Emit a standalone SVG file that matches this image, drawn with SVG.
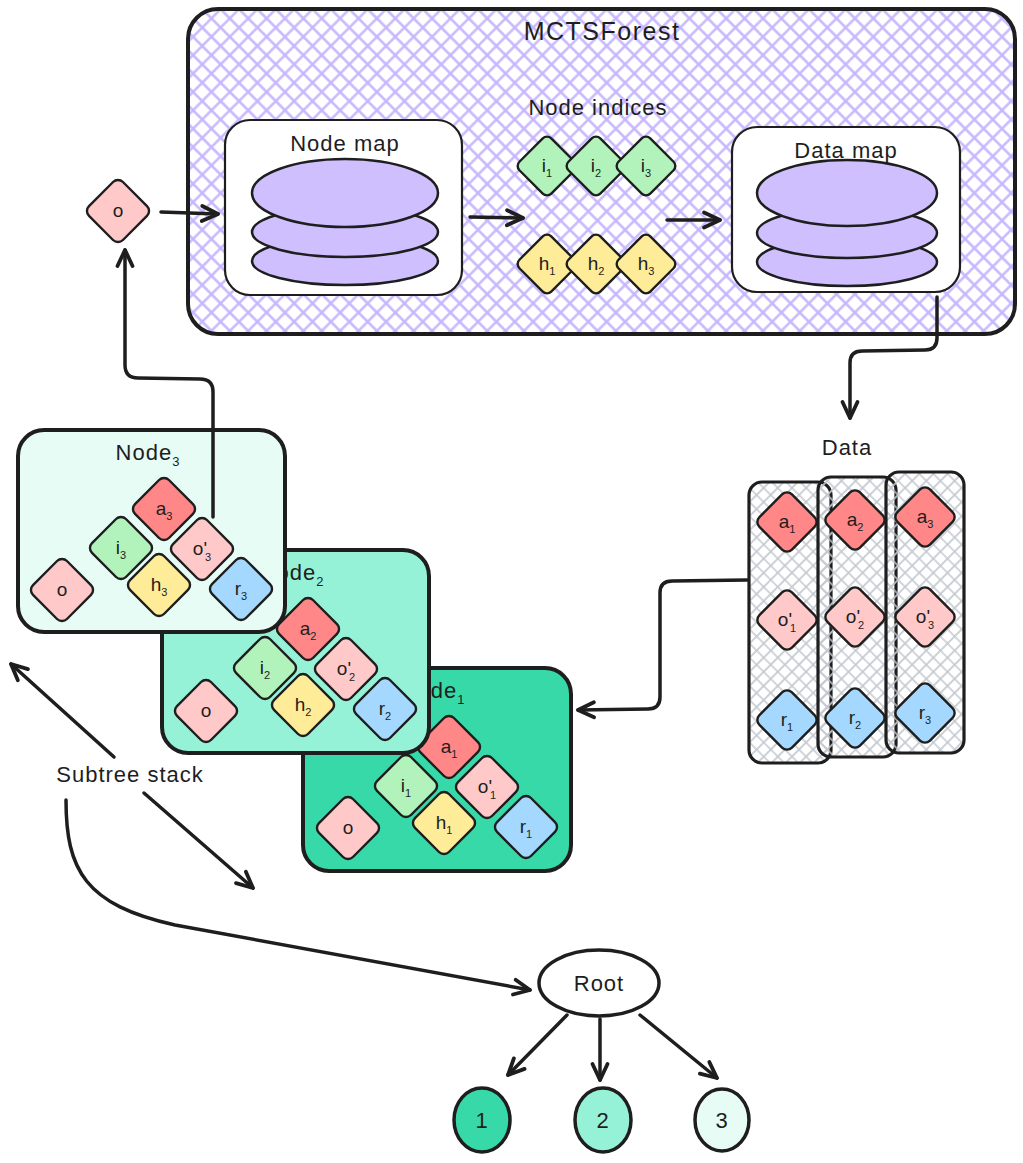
<svg xmlns="http://www.w3.org/2000/svg" width="1023" height="1163" viewBox="0 0 1023 1163">
  <defs>
    <!-- cross-hatch fills -->
    <pattern id="hatchPurple" width="13" height="13" patternUnits="userSpaceOnUse" patternTransform="rotate(45)">
      <path d="M0,6.5 H13 M6.5,0 V13" stroke="#c6b6ff" stroke-width="2.4"/>
    </pattern>
    <pattern id="hatchGrey" width="10" height="10" patternUnits="userSpaceOnUse" patternTransform="rotate(45)">
      <path d="M0,5 H10 M5,0 V10" stroke="#c3c9cf" stroke-width="1.7"/>
    </pattern>
    <!-- open arrowhead -->
    <marker id="arrow" viewBox="-20 -12 24 24" refX="0" refY="0" markerWidth="24" markerHeight="24" markerUnits="userSpaceOnUse" orient="auto" overflow="visible">
      <path d="M-16,-7.5 L0,0 L-16,7.5" fill="none" stroke="#1e1e1e" stroke-width="3.8" stroke-linecap="round" stroke-linejoin="round"/>
    </marker>
    <!-- rounded diamonds -->
    <rect id="dmL" x="-24" y="-24" width="48" height="48" rx="7" transform="rotate(45)"/>
    <rect id="dmM" x="-23" y="-23" width="46" height="46" rx="7" transform="rotate(45)"/>
    <rect id="dmS" x="-22.5" y="-22.5" width="45" height="45" rx="6" transform="rotate(45)"/>
  </defs>
  <style>
    .t{font-family:"Liberation Sans","DejaVu Sans",sans-serif;fill:#1e1e1e;text-anchor:middle}
    .big{font-size:25px;letter-spacing:1.5px}
    .mid{font-size:22px;letter-spacing:1px}
    .sm{font-size:19px}
    .sub{font-size:11px}
    .csub{font-size:13px}
    .dia{stroke:#1e1e1e;stroke-width:2.4;stroke-linejoin:round}
    .fa{fill:#ff8787}.fo{fill:#ffc9c9}.fi{fill:#b2f2bb}.fh{fill:#ffec99}.fr{fill:#a5d8ff}
    .stk{fill:#d0bfff;stroke:#1e1e1e;stroke-width:2.5}
    .card{stroke:#1e1e1e;stroke-width:4}
    .arr{fill:none;stroke:#1e1e1e;stroke-width:3.5;stroke-linecap:round;stroke-linejoin:round;marker-end:url(#arrow)}
  </style>

  <rect width="1023" height="1163" fill="#ffffff"/>

  <!-- forest container -->
  <g id="mcts-forest">
    <rect x="188" y="9" width="827" height="325" rx="30" fill="url(#hatchPurple)" stroke="#1e1e1e" stroke-width="4"/>
    <text class="t big" x="602" y="40">MCTSForest</text>
  </g>

  <g id="node-map">
    <rect x="225" y="120" width="237" height="175" rx="25" fill="#ffffff" stroke="#1e1e1e" stroke-width="2.2"/>
    <text class="t mid" x="345" y="151">Node map</text>
    <ellipse class="stk" cx="345" cy="261" rx="93" ry="24"/>
    <ellipse class="stk" cx="345" cy="232" rx="93" ry="25"/>
    <ellipse class="stk" cx="345" cy="193" rx="93" ry="34"/>
  </g>

  <g id="node-indices">
    <text class="t mid" x="598" y="115">Node indices</text>
    <g id="idx-i1"><use href="#dmS" x="547" y="166" class="dia fi"/><text class="t sm" x="547" y="172">i<tspan class="sub" dy="5">1</tspan></text></g>
    <g id="idx-i2"><use href="#dmS" x="596" y="166" class="dia fi"/><text class="t sm" x="596" y="172">i<tspan class="sub" dy="5">2</tspan></text></g>
    <g id="idx-i3"><use href="#dmS" x="646" y="166" class="dia fi"/><text class="t sm" x="646" y="172">i<tspan class="sub" dy="5">3</tspan></text></g>
    <g id="idx-h1"><use href="#dmS" x="547" y="264" class="dia fh"/><text class="t sm" x="547" y="270">h<tspan class="sub" dy="5">1</tspan></text></g>
    <g id="idx-h2"><use href="#dmS" x="596" y="264" class="dia fh"/><text class="t sm" x="596" y="270">h<tspan class="sub" dy="5">2</tspan></text></g>
    <g id="idx-h3"><use href="#dmS" x="646" y="264" class="dia fh"/><text class="t sm" x="646" y="270">h<tspan class="sub" dy="5">3</tspan></text></g>
  </g>

  <g id="data-map">
    <rect x="732" y="127" width="228" height="165" rx="25" fill="#ffffff" stroke="#1e1e1e" stroke-width="2.2"/>
    <ellipse class="stk" cx="847" cy="262" rx="90" ry="24"/>
    <ellipse class="stk" cx="847" cy="233" rx="90" ry="25"/>
    <ellipse class="stk" cx="847" cy="193" rx="90" ry="33"/>
    <text class="t mid" x="846" y="158">Data map</text>
  </g>

  <g id="obs">
    <use href="#dmL" x="118" y="211" class="dia fo"/>
    <text class="t sm" x="118" y="217">o</text>
  </g>

  <!-- data columns -->
  <g id="data">
    <text class="t mid" x="847" y="455">Data</text>
    <g id="data-col1">
      <rect x="749" y="482" width="82" height="281" rx="13" fill="url(#hatchGrey)" stroke="#1e1e1e" stroke-width="3.2"/>
      <use href="#dmM" x="787" y="522" class="dia fa"/><text class="t sm" x="787" y="528">a<tspan class="sub" dy="5">1</tspan></text>
      <use href="#dmM" x="787" y="620" class="dia fo"/><text class="t sm" x="787" y="626">o'<tspan class="sub" dx="-2" dy="6">1</tspan></text>
      <use href="#dmM" x="787" y="720" class="dia fr"/><text class="t sm" x="787" y="726">r<tspan class="sub" dy="5">1</tspan></text>
    </g>
    <g id="data-col2">
      <rect x="818" y="477" width="78" height="280" rx="13" fill="url(#hatchGrey)" stroke="#1e1e1e" stroke-width="3.2"/>
      <use href="#dmM" x="855" y="520" class="dia fa"/><text class="t sm" x="855" y="526">a<tspan class="sub" dy="5">2</tspan></text>
      <use href="#dmM" x="855" y="617" class="dia fo"/><text class="t sm" x="855" y="623">o'<tspan class="sub" dx="-2" dy="6">2</tspan></text>
      <use href="#dmM" x="855" y="718" class="dia fr"/><text class="t sm" x="855" y="724">r<tspan class="sub" dy="5">2</tspan></text>
    </g>
    <g id="data-col3">
      <rect x="886" y="472" width="78" height="281" rx="13" fill="url(#hatchGrey)" stroke="#1e1e1e" stroke-width="3.2"/>
      <use href="#dmM" x="925" y="517" class="dia fa"/><text class="t sm" x="925" y="523">a<tspan class="sub" dy="5">3</tspan></text>
      <use href="#dmM" x="925" y="617" class="dia fo"/><text class="t sm" x="925" y="623">o'<tspan class="sub" dx="-2" dy="6">3</tspan></text>
      <use href="#dmM" x="925" y="713" class="dia fr"/><text class="t sm" x="925" y="719">r<tspan class="sub" dy="5">3</tspan></text>
    </g>
  </g>

  <!-- subtree stack cards, bottom to top -->
  <g id="node1" transform="translate(303,668)">
    <rect class="card" width="268" height="203" rx="26" fill="#38d9a9"/>
    <text class="t mid" x="130" y="30">Node<tspan class="csub" dy="6">1</tspan></text>
    <use href="#dmL" x="146" y="79" class="dia fa"/><text class="t sm" x="146" y="85">a<tspan class="sub" dy="5">1</tspan></text>
    <use href="#dmL" x="103" y="118" class="dia fi"/><text class="t sm" x="103" y="124">i<tspan class="sub" dy="5">1</tspan></text>
    <use href="#dmL" x="184" y="119" class="dia fo"/><text class="t sm" x="184" y="125">o'<tspan class="sub" dx="-2" dy="6">1</tspan></text>
    <use href="#dmL" x="141" y="155" class="dia fh"/><text class="t sm" x="141" y="161">h<tspan class="sub" dy="5">1</tspan></text>
    <use href="#dmL" x="223" y="159" class="dia fr"/><text class="t sm" x="223" y="165">r<tspan class="sub" dy="5">1</tspan></text>
    <use href="#dmL" x="45" y="160" class="dia fo"/><text class="t sm" x="45" y="166">o</text>
  </g>
  <g id="node2" transform="translate(162,550)">
    <rect class="card" width="267" height="203" rx="26" fill="#96f2d7"/>
    <text class="t mid" x="130" y="30">Node<tspan class="csub" dy="6">2</tspan></text>
    <use href="#dmL" x="146" y="79" class="dia fa"/><text class="t sm" x="146" y="85">a<tspan class="sub" dy="5">2</tspan></text>
    <use href="#dmL" x="103" y="118" class="dia fi"/><text class="t sm" x="103" y="124">i<tspan class="sub" dy="5">2</tspan></text>
    <use href="#dmL" x="184" y="119" class="dia fo"/><text class="t sm" x="184" y="125">o'<tspan class="sub" dx="-2" dy="6">2</tspan></text>
    <use href="#dmL" x="141" y="155" class="dia fh"/><text class="t sm" x="141" y="161">h<tspan class="sub" dy="5">2</tspan></text>
    <use href="#dmL" x="223" y="159" class="dia fr"/><text class="t sm" x="223" y="165">r<tspan class="sub" dy="5">2</tspan></text>
    <use href="#dmL" x="44" y="161" class="dia fo"/><text class="t sm" x="44" y="167">o</text>
  </g>
  <g id="node3" transform="translate(18,430)">
    <rect class="card" width="267" height="202" rx="26" fill="#e6fcf5"/>
    <text class="t mid" x="130" y="30">Node<tspan class="csub" dy="6">3</tspan></text>
    <use href="#dmL" x="146" y="79" class="dia fa"/><text class="t sm" x="146" y="85">a<tspan class="sub" dy="5">3</tspan></text>
    <use href="#dmL" x="103" y="118" class="dia fi"/><text class="t sm" x="103" y="124">i<tspan class="sub" dy="5">3</tspan></text>
    <use href="#dmL" x="184" y="119" class="dia fo"/><text class="t sm" x="184" y="125">o'<tspan class="sub" dx="-2" dy="6">3</tspan></text>
    <use href="#dmL" x="141" y="155" class="dia fh"/><text class="t sm" x="141" y="161">h<tspan class="sub" dy="5">3</tspan></text>
    <use href="#dmL" x="223" y="159" class="dia fr"/><text class="t sm" x="223" y="165">r<tspan class="sub" dy="5">3</tspan></text>
    <use href="#dmL" x="44" y="160" class="dia fo"/><text class="t sm" x="44" y="166">o</text>
  </g>

  <g id="subtree-label">
    <text class="t mid" x="130" y="782">Subtree stack</text>
  </g>

  <!-- search tree -->
  <g id="root">
    <ellipse cx="599" cy="983" rx="60" ry="33" fill="#ffffff" stroke="#1e1e1e" stroke-width="3.5"/>
    <text class="t mid" x="599" y="991">Root</text>
  </g>
  <g id="child1">
    <ellipse cx="482" cy="1120" rx="28" ry="32" fill="#38d9a9" stroke="#1e1e1e" stroke-width="3.5"/>
    <text class="t mid" x="482" y="1128">1</text>
  </g>
  <g id="child2">
    <ellipse cx="603" cy="1120" rx="28" ry="32" fill="#96f2d7" stroke="#1e1e1e" stroke-width="3.5"/>
    <text class="t mid" x="603" y="1128">2</text>
  </g>
  <g id="child3">
    <ellipse cx="722" cy="1120" rx="27" ry="31" fill="#e6fcf5" stroke="#1e1e1e" stroke-width="3.5"/>
    <text class="t mid" x="722" y="1128">3</text>
  </g>

  <!-- connectors -->
  <g id="connectors">
    <path class="arr" d="M161,212 L218,214"/>
    <path class="arr" d="M470,217 L523,218"/>
    <path class="arr" d="M667,220 L720,220"/>
    <path class="arr" d="M937,297 L937,338 Q937,350 925,350 L862,351 Q850,351 850,363 L850,418"/>
    <path class="arr" d="M213,517 L213,392 Q213,379 200,379 L138,378 Q125,378 125,365 L125,250"/>
    <path class="arr" d="M747,580 L672,581 Q660,581 660,593 L660,697 Q660,709 648,709 L578,710"/>
    <path class="arr" d="M114,757 L11,664"/>
    <path class="arr" d="M144,793 L253,888"/>
    <path class="arr" d="M66,800 C66,870 85,905 175,925 L530,990"/>
    <path class="arr" d="M567,1015 L508,1075"/>
    <path class="arr" d="M600,1019 L600,1080"/>
    <path class="arr" d="M640,1015 L717,1078"/>
  </g>
</svg>
